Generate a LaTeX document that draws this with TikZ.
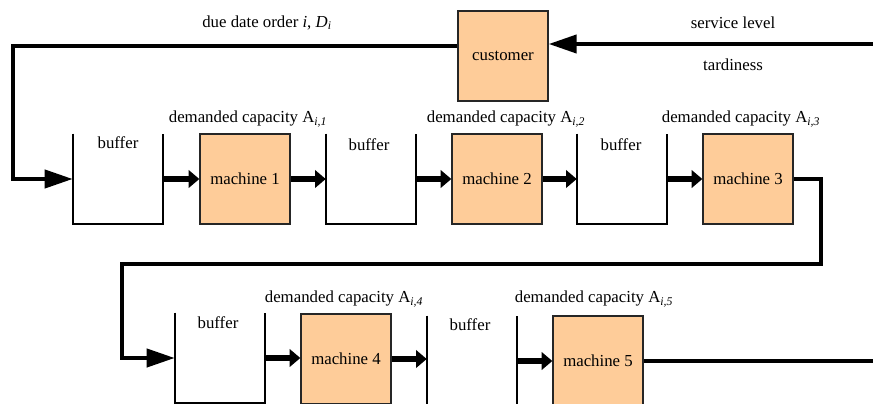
\documentclass[tikz,border=0pt]{standalone}
\usepackage{fontspec}
\setmainfont{Liberation Serif}
\usetikzlibrary{arrows.meta, positioning}
\definecolor{peach}{RGB}{254,204,153}
\tikzset{%
	every node/.style={
		font=\fontsize{12.6}{15}\selectfont
	},
	machine/.style={
		draw=black!85,
		fill=peach,
		line width=1pt,
		minimum width=67.5pt,
		minimum height=67.5pt,
		inner sep=0pt
	},
	bufferbox/.style={
		minimum width=67.5pt,
		minimum height=67.5pt,
		inner sep=0pt
	},
	wall/.style={line width=1.5pt},
	feed/.style={line width=5pt, -{Triangle[length=8pt,width=13pt]}},
	loop/.style={line width=3pt},
	bigtip/.style={-{Triangle[length=21pt,width=13.5pt]}},
}

\begin{document}
\begin{tikzpicture}[x=0.75pt, y=-0.75pt]
	\useasboundingbox (0,0) rectangle (873,403);
	\clip (0,0) rectangle (873,403);

	% Customer
	\node[machine] (cust) at (503,56) {customer};

	% First line: buffers and machines 1 to 3
	\node[bufferbox] (b1) at (118,179) {};
	\node[machine] (m1) at (245,179) {machine 1};
	\node[bufferbox] (b2) at (371,179) {};
	\node[machine] (m2) at (497,179) {machine 2};
	\node[bufferbox] (b3) at (622,179) {};
	\node[machine] (m3) at (748,179) {machine 3};

	% Second line: buffers and machines 4 and 5
	\node[bufferbox] (b4) at (220,358) {};
	\node[machine] (m4) at (346,359) {machine 4};
	\node[bufferbox] (b5) at (472,361) {};
	\node[machine] (m5) at (598,361) {machine 5};

	% Buffer walls, open at the top
	\foreach \b in {b1,b2,b3,b4,b5}
		\draw[wall] (\b.north west) -- (\b.south west) -- (\b.south east) -- (\b.north east);

	% Buffer texts
	\node (t1) at (118,143) {buffer};
	\node (t2) at (369,145) {buffer};
	\node (t3) at (621,145) {buffer};
	\node (t4) at (218,323) {buffer};
	\node (t5) at (470,325) {buffer};

	% Demanded capacities
	\node (cap1) at (248,119) {demanded capacity A\textsubscript{\textit{i,1}}};
	\node (cap2) at (506,119) {demanded capacity A\textsubscript{\textit{i,2}}};
	\node (cap3) at (741,119) {demanded capacity A\textsubscript{\textit{i,3}}};
	\node (cap4) at (344,299) {demanded capacity A\textsubscript{\textit{i,4}}};
	\node (cap5) at (594,299) {demanded capacity A\textsubscript{\textit{i,5}}};

	% Texts round the customer
	\node (due) at (267,23) {due date order \textit{i}, \textit{D}\textsubscript{\textit{i}}};
	\node (serv) at (733,23) {service level};
	\node (tard) at (733,65) {tardiness};

	% Short arrows between buffers and machines
	\draw[feed] (b1.east) -- (m1.west);
	\draw[feed] (m1.east) -- (b2.west);
	\draw[feed] (b2.east) -- (m2.west);
	\draw[feed] (m2.east) -- (b3.west);
	\draw[feed] (b3.east) -- (m3.west);
	\draw[feed] (b4.east) -- (b4.east -| m4.west);
	\draw[feed] (m4.east) -- (m4.east -| b5.west);
	\draw[feed] (b5.east) -- (m5.west);

	% Order from the customer into the first buffer
	\coordinate (west) at (13,179);
	\draw[loop, bigtip] ([yshift=7.5pt]cust.west) -| (west) -- (b1.west);

	% From machine 3 down to the second line
	\draw[loop, bigtip] (m3.east) -- ++(27,0) |- (122,264) |- (b4.west);

	% Service level back to the customer
	\coordinate (in) at (873,44);
	\draw[loop, bigtip] (in) -- ([yshift=9pt]cust.east);

	% Output of machine 5
	\coordinate (out) at (873,361);
	\draw[loop] (m5.east) -- (out);
\end{tikzpicture}
\end{document}
